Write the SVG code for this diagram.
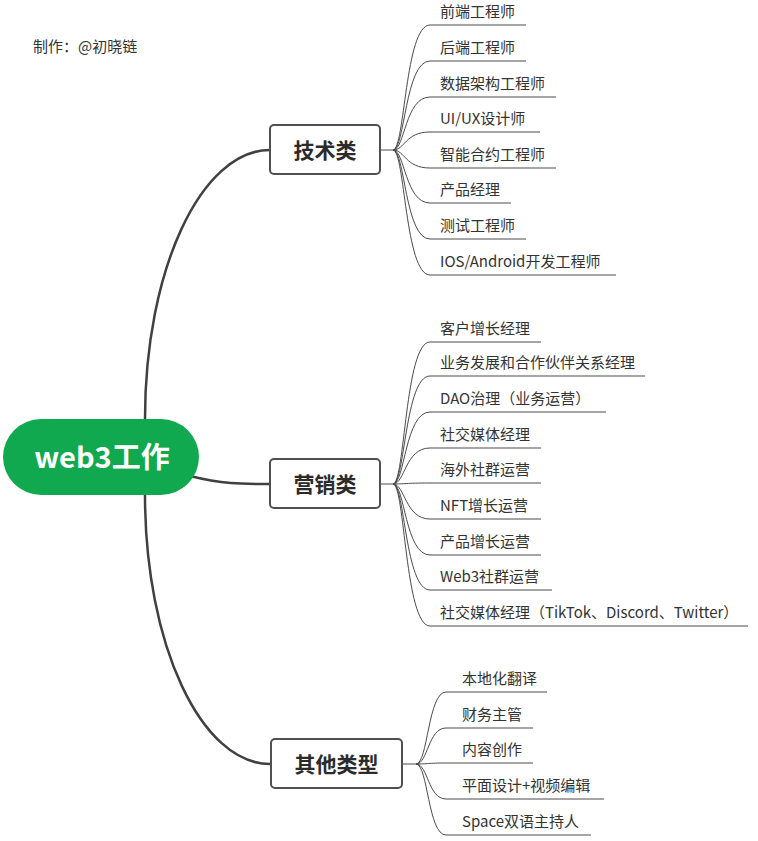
<svg xmlns="http://www.w3.org/2000/svg" width="758" height="841" viewBox="0 0 758 841">
<style>
.bg{fill:#ffffff}
.main{fill:none;stroke:#404040;stroke-width:2.5;stroke-linecap:round}
.leaf{fill:none;stroke:#4a4a4a;stroke-width:1}
.cat rect{fill:#ffffff;stroke:#505050;stroke-width:2}
.cat text{font-family:"Noto Sans CJK SC","Liberation Sans",sans-serif;font-size:21px;font-weight:bold;fill:#2b2b2b;text-anchor:middle}
.lt{font-family:"Noto Sans CJK SC","Liberation Sans",sans-serif;font-size:15px;fill:#333333}
.root text{font-family:"Noto Sans CJK SC","Liberation Sans",sans-serif;font-size:29px;font-weight:bold;fill:#ffffff;text-anchor:middle}
</style>
<rect class="bg" x="0" y="0" width="758" height="841"/>
<text id="credit" class="lt" x="33" y="52">制作：@初晓链</text>
<g id="connectors">
  <path class="main" d="M145,419 C145,270 201,150 270,150"/>
  <path class="main" d="M145,495 C145,644 201,764 270,764"/>
  <path class="main" d="M190,476 C222,484 240,484 270,484"/>
  <!-- tech -->
  <path class="leaf" d="M380,150 L393,150"/>
  <path class="leaf" d="M393,150 C405,150 405,25 430,25 L526,25"/>
  <path class="leaf" d="M393,150 C405,150 405,61 430,61 L526,61"/>
  <path class="leaf" d="M393,150 C405,150 405,97 430,97 L556,97"/>
  <path class="leaf" d="M393,150 C405,150 405,132 430,132 L540,132"/>
  <path class="leaf" d="M393,150 C405,150 405,168 430,168 L556,168"/>
  <path class="leaf" d="M393,150 C405,150 405,203 430,203 L511,203"/>
  <path class="leaf" d="M393,150 C405,150 405,239 430,239 L526,239"/>
  <path class="leaf" d="M393,150 C405,150 405,275 430,275 L616,275"/>
  <!-- marketing -->
  <path class="leaf" d="M380,484 L393,484"/>
  <path class="leaf" d="M393,484 C405,484 405,342 430,342 L541,342"/>
  <path class="leaf" d="M393,484 C405,484 405,376 430,376 L645,376"/>
  <path class="leaf" d="M393,484 C405,484 405,412 430,412 L606,412"/>
  <path class="leaf" d="M393,484 C405,484 405,448 430,448 L541,448"/>
  <path class="leaf" d="M393,484 C405,484 405,483 430,483 L541,483"/>
  <path class="leaf" d="M393,484 C405,484 405,519 430,519 L541,519"/>
  <path class="leaf" d="M393,484 C405,484 405,555 430,555 L541,555"/>
  <path class="leaf" d="M393,484 C405,484 405,590 430,590 L552,590"/>
  <path class="leaf" d="M393,484 C405,484 405,626 430,626 L748,626"/>
  <!-- other -->
  <path class="leaf" d="M402,764 L416,764"/>
  <path class="leaf" d="M416,764 C428,764 428,692 446,692 L547,692"/>
  <path class="leaf" d="M416,764 C428,764 428,728 446,728 L533,728"/>
  <path class="leaf" d="M416,764 C428,764 428,763 446,763 L533,763"/>
  <path class="leaf" d="M416,764 C428,764 428,799 446,799 L604,799"/>
  <path class="leaf" d="M416,764 C428,764 428,835 446,835 L591,835"/>
</g>
<g id="root" class="root">
  <rect x="3" y="419" width="196" height="76" rx="38" fill="#11a94f"/>
  <text x="102" y="468">web3工作</text>
</g>
<g id="tech" class="cat">
  <rect x="270" y="125" width="110" height="49" rx="4"/>
  <text x="325" y="157.5">技术类</text>
</g>
<g id="marketing" class="cat">
  <rect x="270" y="459" width="110" height="49" rx="4"/>
  <text x="325" y="491.5">营销类</text>
</g>
<g id="other" class="cat">
  <rect x="271" y="739" width="131" height="49" rx="4"/>
  <text x="336.5" y="771.5">其他类型</text>
</g>
<g id="tech-leaves">
  <text id="t1" class="lt" x="440" y="17">前端工程师</text>
  <text id="t2" class="lt" x="440" y="53">后端工程师</text>
  <text id="t3" class="lt" x="440" y="89">数据架构工程师</text>
  <text id="t4" class="lt" x="440" y="124">UI/UX设计师</text>
  <text id="t5" class="lt" x="440" y="160">智能合约工程师</text>
  <text id="t6" class="lt" x="440" y="195">产品经理</text>
  <text id="t7" class="lt" x="440" y="231">测试工程师</text>
  <text id="t8" class="lt" x="440" y="267">IOS/Android开发工程师</text>
</g>
<g id="marketing-leaves">
  <text id="m1" class="lt" x="440" y="334">客户增长经理</text>
  <text id="m2" class="lt" x="440" y="368">业务发展和合作伙伴关系经理</text>
  <text id="m3" class="lt" x="440" y="404">DAO治理（业务运营）</text>
  <text id="m4" class="lt" x="440" y="440">社交媒体经理</text>
  <text id="m5" class="lt" x="440" y="475">海外社群运营</text>
  <text id="m6" class="lt" x="440" y="511">NFT增长运营</text>
  <text id="m7" class="lt" x="440" y="547">产品增长运营</text>
  <text id="m8" class="lt" x="440" y="582">Web3社群运营</text>
  <text id="m9" class="lt" x="440" y="618">社交媒体经理（TikTok、Discord、Twitter）</text>
</g>
<g id="other-leaves">
  <text id="o1" class="lt" x="462" y="684">本地化翻译</text>
  <text id="o2" class="lt" x="462" y="720">财务主管</text>
  <text id="o3" class="lt" x="462" y="755">内容创作</text>
  <text id="o4" class="lt" x="462" y="791">平面设计+视频编辑</text>
  <text id="o5" class="lt" x="462" y="827">Space双语主持人</text>
</g>
</svg>
